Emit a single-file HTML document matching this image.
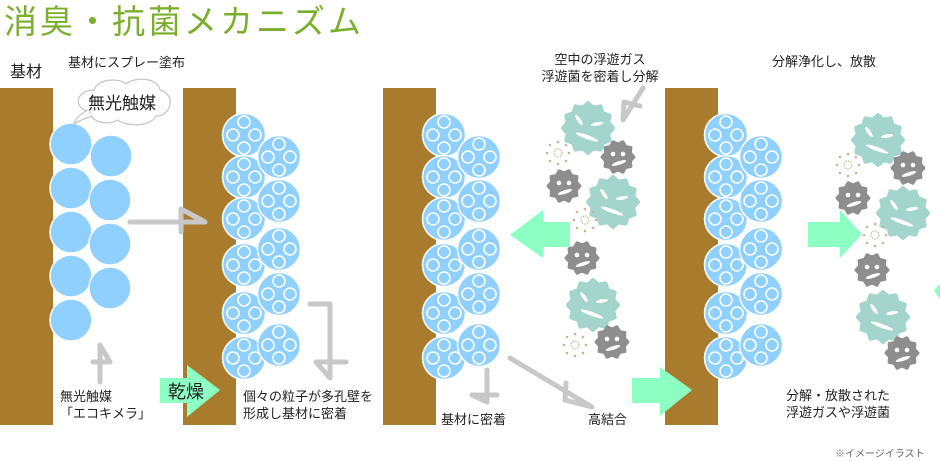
<!DOCTYPE html>
<html><head><meta charset="utf-8">
<style>
html,body{margin:0;padding:0;background:#fff;}
svg{display:block;}
text{font-family:"Liberation Sans","Noto Sans CJK JP",sans-serif;fill:#222;}
</style></head>
<body>
<svg width="940" height="461" viewBox="0 0 940 461" xmlns="http://www.w3.org/2000/svg">
<defs>
  <g id="plain"><circle r="21" fill="#8fd0ff" stroke="#fff" stroke-width="1.5"/></g>
  <g id="por">
    <circle r="21.5" fill="#8fd0ff" stroke="#fff" stroke-width="1.5"/>
    <circle cx="0" cy="-13" r="6" fill="none" stroke="#fff" stroke-width="1.6"/>
    <circle cx="-11" cy="0" r="6" fill="none" stroke="#fff" stroke-width="1.6"/>
    <circle cx="11" cy="0" r="6" fill="none" stroke="#fff" stroke-width="1.6"/>
    <circle cx="0" cy="13" r="6" fill="none" stroke="#fff" stroke-width="1.6"/>
  </g>
  <g id="tg">
    <polygon points="25,0 20.3,5.4 21.7,12.5 14.8,14.8 12.5,21.7 5.4,20.3 0,25 -5.4,20.3 -12.5,21.7 -14.8,14.8 -21.7,12.5 -20.3,5.4 -25,0 -20.3,-5.4 -21.7,-12.5 -14.8,-14.8 -12.5,-21.7 -5.4,-20.3 0,-25 5.4,-20.3 12.5,-21.7 14.8,-14.8 21.7,-12.5 20.3,-5.4" fill="#a3d5cd" stroke="#a3d5cd" stroke-width="4" stroke-linejoin="round"/>
    <ellipse cx="-9" cy="-8" rx="6" ry="1.8" transform="rotate(55 -9 -8)" fill="#fff"/>
    <ellipse cx="9" cy="-4" rx="6" ry="1.8" transform="rotate(-10 9 -4)" fill="#fff"/>
    <ellipse cx="-1" cy="9" rx="12" ry="2" transform="rotate(20 -1 9)" fill="#fff"/>
  </g>
  <g id="gg">
    <polygon points="16,0 12.4,4 12.9,9.4 7.6,10.5 4.9,15.2 0,13 -4.9,15.2 -7.6,10.5 -12.9,9.4 -12.4,4 -16,0 -12.4,-4 -12.9,-9.4 -7.6,-10.5 -4.9,-15.2 0,-13 4.9,-15.2 7.6,-10.5 12.9,-9.4 12.4,-4" fill="#8e8e8e" stroke="#8e8e8e" stroke-width="3" stroke-linejoin="round"/>
    <circle cx="-5" cy="-3" r="2.3" fill="#fff"/>
    <circle cx="5" cy="-3" r="2.3" fill="#fff"/>
    <ellipse cx="1" cy="6" rx="7.5" ry="1.8" transform="rotate(-18 1 6)" fill="#fff"/>
  </g>
  <g id="dust">
    <circle cx="0" cy="-11" r="1.3" fill="#cbb491"/><circle cx="8" cy="-8" r="1.3" fill="#cbb491"/><circle cx="11" cy="0" r="1.3" fill="#cbb491"/>
    <circle cx="8" cy="8" r="1.3" fill="#cbb491"/><circle cx="0" cy="11" r="1.3" fill="#cbb491"/><circle cx="-8" cy="8" r="1.3" fill="#cbb491"/>
    <circle cx="-11" cy="0" r="1.3" fill="#cbb491"/><circle cx="-8" cy="-8" r="1.3" fill="#cbb491"/>
    <circle r="4" fill="none" stroke="#cbb491" stroke-width="1.2" stroke-dasharray="1.5 1.2"/>
  </g>
</defs>

<text x="4" y="33" font-size="33" letter-spacing="3" style="fill:#7bae2c">消臭・抗菌メカニズム</text>

<rect x="0" y="88" width="53" height="337" fill="#a97c2d"/>
<rect x="183" y="88" width="53" height="337" fill="#a97c2d"/>
<rect x="383" y="88" width="53" height="337" fill="#a97c2d"/>
<rect x="665" y="88" width="53" height="337" fill="#a97c2d"/>

<use href="#plain" x="71" y="144"/><use href="#plain" x="71" y="188"/><use href="#plain" x="71" y="232"/>
<use href="#plain" x="71" y="276"/><use href="#plain" x="71" y="320"/>
<use href="#plain" x="111" y="156"/><use href="#plain" x="110" y="200"/><use href="#plain" x="110" y="244"/>
<use href="#plain" x="110" y="288"/>

<g id="stack">
  <use href="#por" x="244" y="135"/><use href="#por" x="244" y="177"/><use href="#por" x="244" y="219"/>
  <use href="#por" x="244" y="265"/><use href="#por" x="244" y="313"/><use href="#por" x="244" y="358"/>
  <use href="#por" x="279" y="157"/><use href="#por" x="279" y="201"/><use href="#por" x="279" y="249"/>
  <use href="#por" x="279" y="294"/><use href="#por" x="279" y="345"/>
</g>
<use href="#stack" x="200"/>
<use href="#stack" x="482"/>

<path d="M90 112 C72 108 76 90 94 90 C98 78 120 78 126 84 C136 76 158 78 160 90 C176 94 172 116 156 116 C150 128 124 126 118 120 C106 126 92 122 90 112 Z" fill="#fff" stroke="#c4c4c4" stroke-width="1.2"/>
<path d="M88 110 C80 114 76 118 74 124 C80 120 86 118 92 116" fill="#fff" stroke="#c4c4c4" stroke-width="1.2"/>
<text x="88" y="109" font-size="17">無光触媒</text>

<g fill="none" stroke="#c8c8c8" stroke-width="5" stroke-linejoin="round" stroke-linecap="round">
  <polyline points="130,222 205,222 181,209 181,232"/>
  <polyline points="100,382 100,345 110,362 93,362"/>
  <polyline points="310,304 330,304 330,378 316,362 346,362"/>
  <polyline points="487,370 487,402 472,395 497,395"/>
  <polyline points="510,358 592,407 565,400 566,383"/>
  <polyline points="643,88 623,120 624,102 640,106"/>
</g>

<use href="#tg" x="588" y="128"/>
<use href="#dust" x="558" y="153"/>
<use href="#gg" x="618" y="157"/>
<use href="#gg" x="564" y="186"/>
<use href="#tg" x="613" y="202"/>
<use href="#dust" x="585" y="220"/>
<use href="#gg" x="582" y="258"/>
<use href="#tg" x="593" y="305"/>
<use href="#dust" x="575" y="345"/>
<use href="#gg" x="612" y="342"/>

<use href="#tg" x="878" y="140"/>
<use href="#dust" x="848" y="165"/>
<use href="#gg" x="908" y="168"/>
<use href="#gg" x="853" y="198"/>
<use href="#tg" x="903" y="213"/>
<use href="#dust" x="875" y="235"/>
<use href="#gg" x="872" y="270"/>
<use href="#tg" x="883" y="317"/>
<use href="#gg" x="902" y="353"/>

<g fill="#8effc2">
  <polygon points="570,222 543,222 543,210 510,235 543,258 543,247 570,247"/>
  <polygon points="808,222 840,222 840,210 862,234 840,258 840,247 808,247"/>
  <polygon points="632,378 660,378 660,367 692,390 660,416 660,403 632,403"/>
  <polygon points="160,378 187,378 187,365 220,390 187,417 187,403 160,403"/>
  <polygon points="934,290 940,284 940,300"/>
</g>
<text x="168" y="398" font-size="18">乾燥</text>

<text x="10" y="77" font-size="16">基材</text>
<text x="68" y="67" font-size="13">基材にスプレー塗布</text>
<text x="60" y="401" font-size="13">無光触媒</text>
<text x="60" y="418" font-size="13">「エコキメラ」</text>
<text x="243" y="401" font-size="13">個々の粒子が多孔壁を</text>
<text x="243" y="418" font-size="13">形成し基材に密着</text>
<text x="600" y="64" font-size="13" text-anchor="middle">空中の浮遊ガス</text>
<text x="600" y="81" font-size="13" text-anchor="middle">浮遊菌を密着し分解</text>
<text x="772" y="66" font-size="13">分解浄化し、放散</text>
<text x="441" y="424" font-size="13">基材に密着</text>
<text x="588" y="424" font-size="13">高結合</text>
<text x="786" y="400" font-size="13">分解・放散された</text>
<text x="786" y="417" font-size="13">浮遊ガスや浮遊菌</text>
<text x="835" y="457" font-size="10" style="fill:#666">※イメージイラスト</text>
</svg>
</body></html>
